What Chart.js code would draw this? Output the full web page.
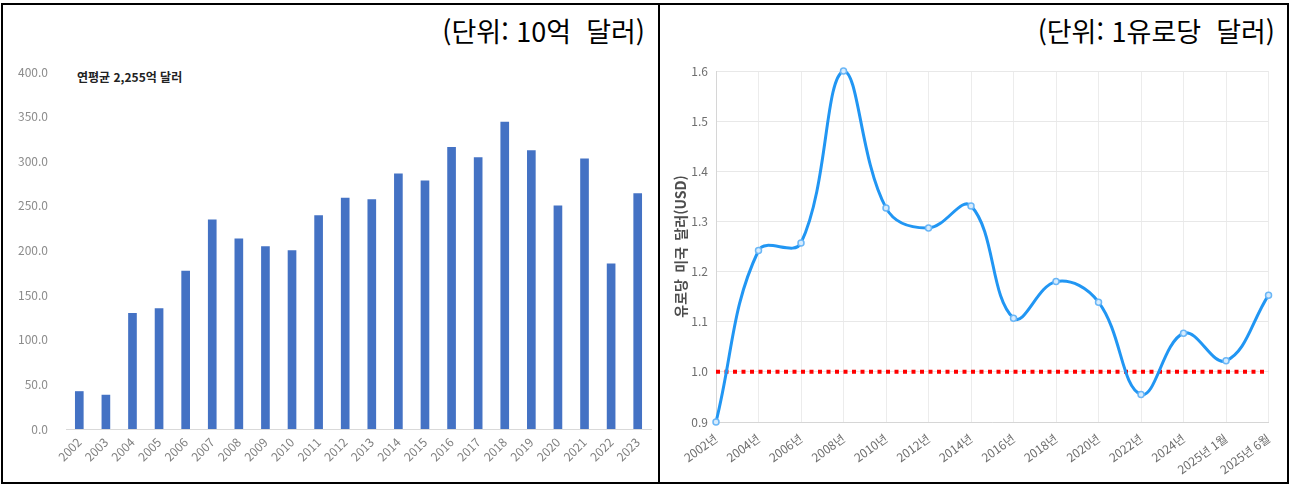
<!DOCTYPE html>
<html lang="ko">
<head>
<meta charset="utf-8">
<script src="https://cdn.jsdelivr.net/npm/chart.js@4.4.1/dist/chart.umd.min.js"></script>
<style>
  body { margin: 0; background: #fff; }
  #wrap { position: relative; width: 1290px; height: 485px; overflow: hidden; }
  .frame { position: absolute; border: 2px solid #000; box-sizing: border-box; }
  .unit {
    position: absolute; top: 11px; font-family: 'Noto Sans CJK KR', sans-serif;
    font-size: 27px; line-height: 40px; color: #000; white-space: pre; text-align: right;
  }
  .note {
    position: absolute; left: 77px; top: 68px; font-family: 'Noto Sans CJK KR', sans-serif;
    font-size: 12px; font-weight: bold; color: #222; white-space: nowrap;
  }
  canvas { position: absolute; }
</style>
</head>
<body>
<div id="wrap">
  <div class="frame" style="left:1px; top:3px; width:659px; height:481px;"></div>
  <div class="frame" style="left:658px; top:3px; width:631px; height:481px;"></div>
  <div class="unit" style="right:645px;">(단위: 10억  달러)</div>
  <div class="unit" style="right:15px;">(단위: 1유로당  달러)</div>
  <div class="note">연평균 2,255억 달러</div>
  <canvas id="barChart" style="left:3px; top:5px; width:654px; height:477px;"></canvas>
  <canvas id="lineChart" style="left:661px; top:5px; width:625px; height:477px;"></canvas>
</div>
<script>
// left: yearly values (10억 달러)
const years = ['2002', '2003', '2004', '2005', '2006', '2007', '2008', '2009', '2010', '2011', '2012',
  '2013', '2014', '2015', '2016', '2017', '2018', '2019', '2020', '2021', '2022', '2023'];
const investment = [42, 38, 129.5, 135, 177, 234.5, 213, 204.5, 200, 239, 258.8,
  257, 286, 278, 315.7, 304, 344, 312, 250, 302.6, 185, 263.7];

// right: EUR/USD
const rateLabels = ['2002년', '2004년', '2006년', '2008년', '2010년', '2012년', '2014년',
  '2016년', '2018년', '2020년', '2022년', '2024년', '2025년 1월', '2025년 6월'];
const eurUsd = [0.90, 1.242, 1.257, 1.60, 1.327, 1.287, 1.331, 1.107, 1.18, 1.139, 0.955, 1.077, 1.022, 1.153];
const parity = 1.0;

const tickFont = "'Liberation Sans Narrow', 'Noto Sans CJK KR', sans-serif";

new Chart(document.getElementById('barChart'), {
  type: 'bar',
  data: {
    labels: years,
    datasets: [{
      data: investment,
      backgroundColor: '#4472c4',
      barThickness: 8
    }]
  },
  options: {
    responsive: false,
    animation: false,
    layout: { padding: { top: 67, right: 6, left: 0, bottom: 0 } },
    plugins: { legend: { display: false }, tooltip: { enabled: false } },
    scales: {
      x: {
        afterFit: s => { s.height = 53; },
        grid: { display: false, drawTicks: false },
        border: { display: true, color: '#d9d9d9', width: 1 },
        ticks: {
          color: '#7f7f7f',
          font: { family: tickFont, size: 12 },
          minRotation: 45, maxRotation: 45,
          padding: 6,
          autoSkip: false
        }
      },
      y: {
        min: 0, max: 400,
        afterFit: s => { s.width = 63; },
        grid: { display: false, drawTicks: false },
        border: { display: false },
        ticks: {
          stepSize: 50,
          color: '#8c8c8c',
          font: { family: tickFont, size: 12 },
          padding: 18,
          callback: v => v.toFixed(1)
        }
      }
    }
  }
});

new Chart(document.getElementById('lineChart'), {
  type: 'line',
  data: {
    labels: rateLabels,
    datasets: [{
      data: eurUsd,
      borderColor: '#2196f3',
      borderWidth: 3,
      tension: 0.4,
      pointRadius: 3,
      pointBorderWidth: 1.5,
      pointBackgroundColor: '#d6ebfd',
      pointBorderColor: '#6ab6f6',
      clip: false
    }, {
      data: rateLabels.map(() => parity),
      borderColor: '#ff0000',
      borderWidth: 4,
      borderDash: [4, 4.5],
      pointRadius: 0,
      tension: 0
    }]
  },
  options: {
    responsive: false,
    animation: false,
    layout: { padding: { top: 66, right: 10, left: 0, bottom: 0 } },
    plugins: { legend: { display: false }, tooltip: { enabled: false } },
    scales: {
      x: {
        afterFit: s => { s.height = 60; },
        grid: { color: '#ececec', drawTicks: false },
        border: { color: '#d6d6d6' },
        ticks: {
          color: '#6e6e6e',
          font: { family: tickFont, size: 12 },
          minRotation: 36, maxRotation: 36,
          padding: 9,
          autoSkip: false
        }
      },
      y: {
        min: 0.9, max: 1.6,
        afterFit: s => { s.width = 55; },
        grid: { color: '#e8e8e8', drawTicks: false },
        border: { color: '#d6d6d6' },
        title: {
          display: true,
          text: '유로당  미국  달러(USD)',
          color: '#4d4d4d',
          font: { family: "'Noto Sans CJK KR', sans-serif", size: 14, weight: 'bold' },
          padding: { top: 11, bottom: 0 }
        },
        ticks: {
          stepSize: 0.1,
          color: '#6e6e6e',
          font: { family: tickFont, size: 12 },
          padding: 8,
          callback: v => v.toFixed(1)
        }
      }
    }
  }
});
</script>
</body>
</html>
